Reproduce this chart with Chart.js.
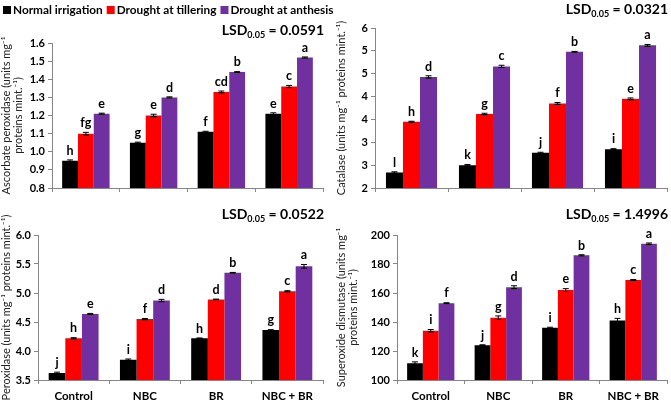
<!DOCTYPE html>
<html>
<head>
<meta charset="utf-8">
<script src="https://cdn.jsdelivr.net/npm/chart.js@4.4.1/dist/chart.umd.min.js"></script>
<style>
  html, body { margin: 0; padding: 0; background: #fff; }
  #wrap { position: relative; width: 671px; height: 400px; overflow: hidden; }
  #wrap canvas { position: absolute; }
</style>
</head>
<body>
<div id="wrap">
  <canvas id="apxChart" width="335" height="200" style="left:0;top:0"></canvas>
  <canvas id="catChart" width="336" height="200" style="left:335px;top:0"></canvas>
  <canvas id="podChart" width="335" height="200" style="left:0;top:200px"></canvas>
  <canvas id="sodChart" width="336" height="200" style="left:335px;top:200px"></canvas>
</div>
<script>
// Categories and series
const categories = ['Control', 'NBC', 'BR', 'NBC + BR'];
const seriesNames = ['Normal irrigation', 'Drought at tillering', 'Drought at anthesis'];
const seriesColors = ['#000000', '#ff0000', '#7030a0'];

// Ascorbate peroxidase
const apxNormal = [0.95, 1.05, 1.11, 1.21];
const apxTiller = [1.10, 1.20, 1.33, 1.36];
const apxAnthesis = [1.21, 1.30, 1.44, 1.52];
const apxErrors = [[0.005, 0.003, 0.003, 0.005], [0.007, 0.007, 0.005, 0.006], [0.003, 0.003, 0.002, 0.003]];
const apxLetters = [['h', 'g', 'f', 'e'], ['fg', 'e', 'cd', 'c'], ['e', 'd', 'b', 'a']];

// Catalase (axis labels are rounded in the original)
const catNormal = [2.34, 2.50, 2.77, 2.85];
const catTiller = [3.45, 3.62, 3.85, 3.95];
const catAnthesis = [4.43, 4.66, 4.98, 5.12];
const catErrors = [[0.015, 0.015, 0.012, 0.01], [0.01, 0.015, 0.02, 0.02], [0.025, 0.025, 0.008, 0.02]];
const catLetters = [['l', 'k', 'j', 'i'], ['h', 'g', 'f', 'e'], ['d', 'c', 'b', 'a']];

// Peroxidase
const podNormal = [3.62, 3.85, 4.22, 4.36];
const podTiller = [4.22, 4.55, 4.89, 5.03];
const podAnthesis = [4.64, 4.87, 5.35, 5.46];
const podErrors = [[0.015, 0.012, 0.005, 0.008], [0.01, 0.01, 0.005, 0.01], [0.008, 0.02, 0.005, 0.03]];
const podLetters = [['j', 'i', 'h', 'g'], ['h', 'f', 'd', 'c'], ['e', 'd', 'b', 'a']];

// Superoxide dismutase
const sodNormal = [111.5, 124, 136, 141];
const sodTiller = [134, 143, 162, 169];
const sodAnthesis = [153, 164, 186, 194];
const sodErrors = [[1, 0.3, 0.4, 1.5], [0.8, 1.2, 1, 0.3], [0.3, 1, 0.4, 0.5]];
const sodLetters = [['k', 'j', 'i', 'h'], ['i', 'g', 'e', 'c'], ['f', 'd', 'b', 'a']];

const FONT = 'Lato';

// Error bars, significance letters and the LSD note
const annotatePlugin = {
  id: 'annotate',
  afterDatasetsDraw(chart, args, opts) {
    const ctx = chart.ctx;
    const yScale = chart.scales.y;
    ctx.save();
    chart.data.datasets.forEach((ds, i) => {
      const meta = chart.getDatasetMeta(i);
      meta.data.forEach((bar, j) => {
        const v = ds.data[j];
        const e = opts.errors[i][j];
        const top = yScale.getPixelForValue(v + e);
        const bot = yScale.getPixelForValue(v - e);
        ctx.strokeStyle = '#000';
        ctx.lineWidth = 1;
        ctx.beginPath();
        ctx.moveTo(bar.x, top); ctx.lineTo(bar.x, bot);
        ctx.moveTo(bar.x - 3, top); ctx.lineTo(bar.x + 3, top);
        ctx.moveTo(bar.x - 3, bot); ctx.lineTo(bar.x + 3, bot);
        ctx.stroke();
        ctx.fillStyle = '#000';
        ctx.font = 'bold 12.5px ' + FONT;
        ctx.textAlign = 'center';
        ctx.textBaseline = 'bottom';
        ctx.fillText(opts.letters[i][j], bar.x, top - 3);
      });
    });

    // LSD0.05 = value, right aligned
    const main = 'bold 14px ' + FONT;
    const sub = 'bold 9px ' + FONT;
    const rest = ' = ' + opts.lsd;
    ctx.font = main;
    const w1 = ctx.measureText('LSD').width;
    const w3 = ctx.measureText(rest).width;
    ctx.font = sub;
    const w2 = ctx.measureText('0.05').width;
    let x = opts.lsdX - (w1 + w2 + w3);
    const y = opts.lsdY;
    ctx.textAlign = 'left';
    ctx.textBaseline = 'alphabetic';
    ctx.fillStyle = '#000';
    ctx.font = main;
    ctx.fillText('LSD', x, y);
    x += w1;
    ctx.font = sub;
    ctx.fillText('0.05', x, y + 3);
    x += w2;
    ctx.font = main;
    ctx.fillText(rest, x, y);
    ctx.restore();
  }
};

// Shared legend across the top of the figure (drawn in the first panel)
const topLegendPlugin = {
  id: 'topLegend',
  afterDraw(chart) {
    const ctx = chart.ctx;
    ctx.save();
    ctx.font = 'bold 11.8px ' + FONT;
    ctx.textAlign = 'left';
    ctx.textBaseline = 'middle';
    let x = 3;
    const y = 10;
    chart.data.datasets.forEach(ds => {
      ctx.fillStyle = ds.backgroundColor;
      ctx.fillRect(x, y - 4, 8, 8);
      x += 10;
      ctx.fillStyle = '#000';
      ctx.fillText(ds.label, x, y);
      x += ctx.measureText(ds.label).width + 4;
    });
    ctx.restore();
  }
};

function makePanel(id, cfg) {
  const ctx = document.getElementById(id);
  return new Chart(ctx, {
    type: 'bar',
    data: {
      labels: categories,
      datasets: cfg.values.map((vals, i) => ({
        label: seriesNames[i],
        data: vals,
        backgroundColor: seriesColors[i],
        borderWidth: 0,
        categoryPercentage: 0.7,
        barPercentage: 1.0
      }))
    },
    options: {
      responsive: false,
      animation: false,
      layout: { padding: cfg.padding },
      plugins: {
        legend: { display: false },
        tooltip: { enabled: false },
        annotate: {
          errors: cfg.errors,
          letters: cfg.letters,
          lsd: cfg.lsd,
          lsdX: cfg.lsdX,
          lsdY: cfg.lsdY
        }
      },
      scales: {
        x: {
          offset: true,
          grid: {
            display: true,
            offset: true,
            drawOnChartArea: false,
            drawTicks: true,
            tickLength: 4,
            color: '#868686'
          },
          border: { color: '#868686' },
          ticks: {
            display: cfg.showX,
            color: '#000',
            padding: 5,
            font: { family: FONT, size: 11.5, weight: 'bold' }
          },
          afterFit(scale) { scale.height = cfg.showX ? 20 : 4; }
        },
        y: {
          min: cfg.min,
          max: cfg.max,
          grid: {
            display: true,
            drawOnChartArea: false,
            drawTicks: true,
            tickLength: 4,
            color: '#868686'
          },
          border: { color: '#868686' },
          ticks: {
            stepSize: cfg.step,
            color: '#000',
            padding: 3,
            font: { family: FONT, size: 11, weight: 'bold' },
            callback: cfg.tickFmt
          },
          title: {
            display: true,
            text: cfg.title,
            color: '#222',
            padding: { top: 0, bottom: 2 },
            font: { family: FONT, size: 11, lineHeight: 1.1 }
          },
          afterFit(scale) { scale.width = cfg.axisWidth; }
        }
      }
    },
    plugins: cfg.legend ? [annotatePlugin, topLegendPlugin] : [annotatePlugin]
  });
}

makePanel('apxChart', {
  values: [apxNormal, apxTiller, apxAnthesis],
  errors: apxErrors,
  letters: apxLetters,
  min: 0.8, max: 1.6, step: 0.1,
  tickFmt: v => v.toFixed(1),
  title: ['Ascorbate peroxidase (units mg\u207B\u00B9', 'proteins mint.\u207B\u00B9)'],
  axisWidth: 52,
  padding: { left: 0, right: 12, top: 43, bottom: 8 },
  legend: true,
  showX: false,
  lsd: '0.0591', lsdX: 324, lsdY: 35
});

makePanel('catChart', {
  values: [catNormal, catTiller, catAnthesis],
  errors: catErrors,
  letters: catLetters,
  min: 2, max: 5.5, step: 0.5,
  tickFmt: v => String(Math.round(v)),
  title: 'Catalase (units mg\u207B\u00B9 proteins mint.\u207B\u00B9)',
  axisWidth: 40,
  padding: { left: 0, right: 4, top: 28, bottom: 8 },
  legend: false,
  showX: false,
  lsd: '0.0321', lsdX: 333, lsdY: 14
});

makePanel('podChart', {
  values: [podNormal, podTiller, podAnthesis],
  errors: podErrors,
  letters: podLetters,
  min: 3.5, max: 6.0, step: 0.5,
  tickFmt: v => v.toFixed(1),
  title: 'Peroxidase (units mg\u207B\u00B9 proteins mint.\u207B\u00B9)',
  axisWidth: 38,
  padding: { left: 0, right: 12, top: 35, bottom: 0 },
  legend: false,
  showX: true,
  lsd: '0.0522', lsdX: 324, lsdY: 19
});

makePanel('sodChart', {
  values: [sodNormal, sodTiller, sodAnthesis],
  errors: sodErrors,
  letters: sodLetters,
  min: 100, max: 200, step: 10,
  tickFmt: v => String(v),
  title: ['Superoxide dismutase (units mg\u207B\u00B9', 'proteins mint.\u207B\u00B9)'],
  axisWidth: 62,
  padding: { left: 0, right: 4, top: 35, bottom: 0 },
  legend: false,
  showX: true,
  lsd: '1.4996', lsdX: 333, lsdY: 19
});
</script>
</body>
</html>
